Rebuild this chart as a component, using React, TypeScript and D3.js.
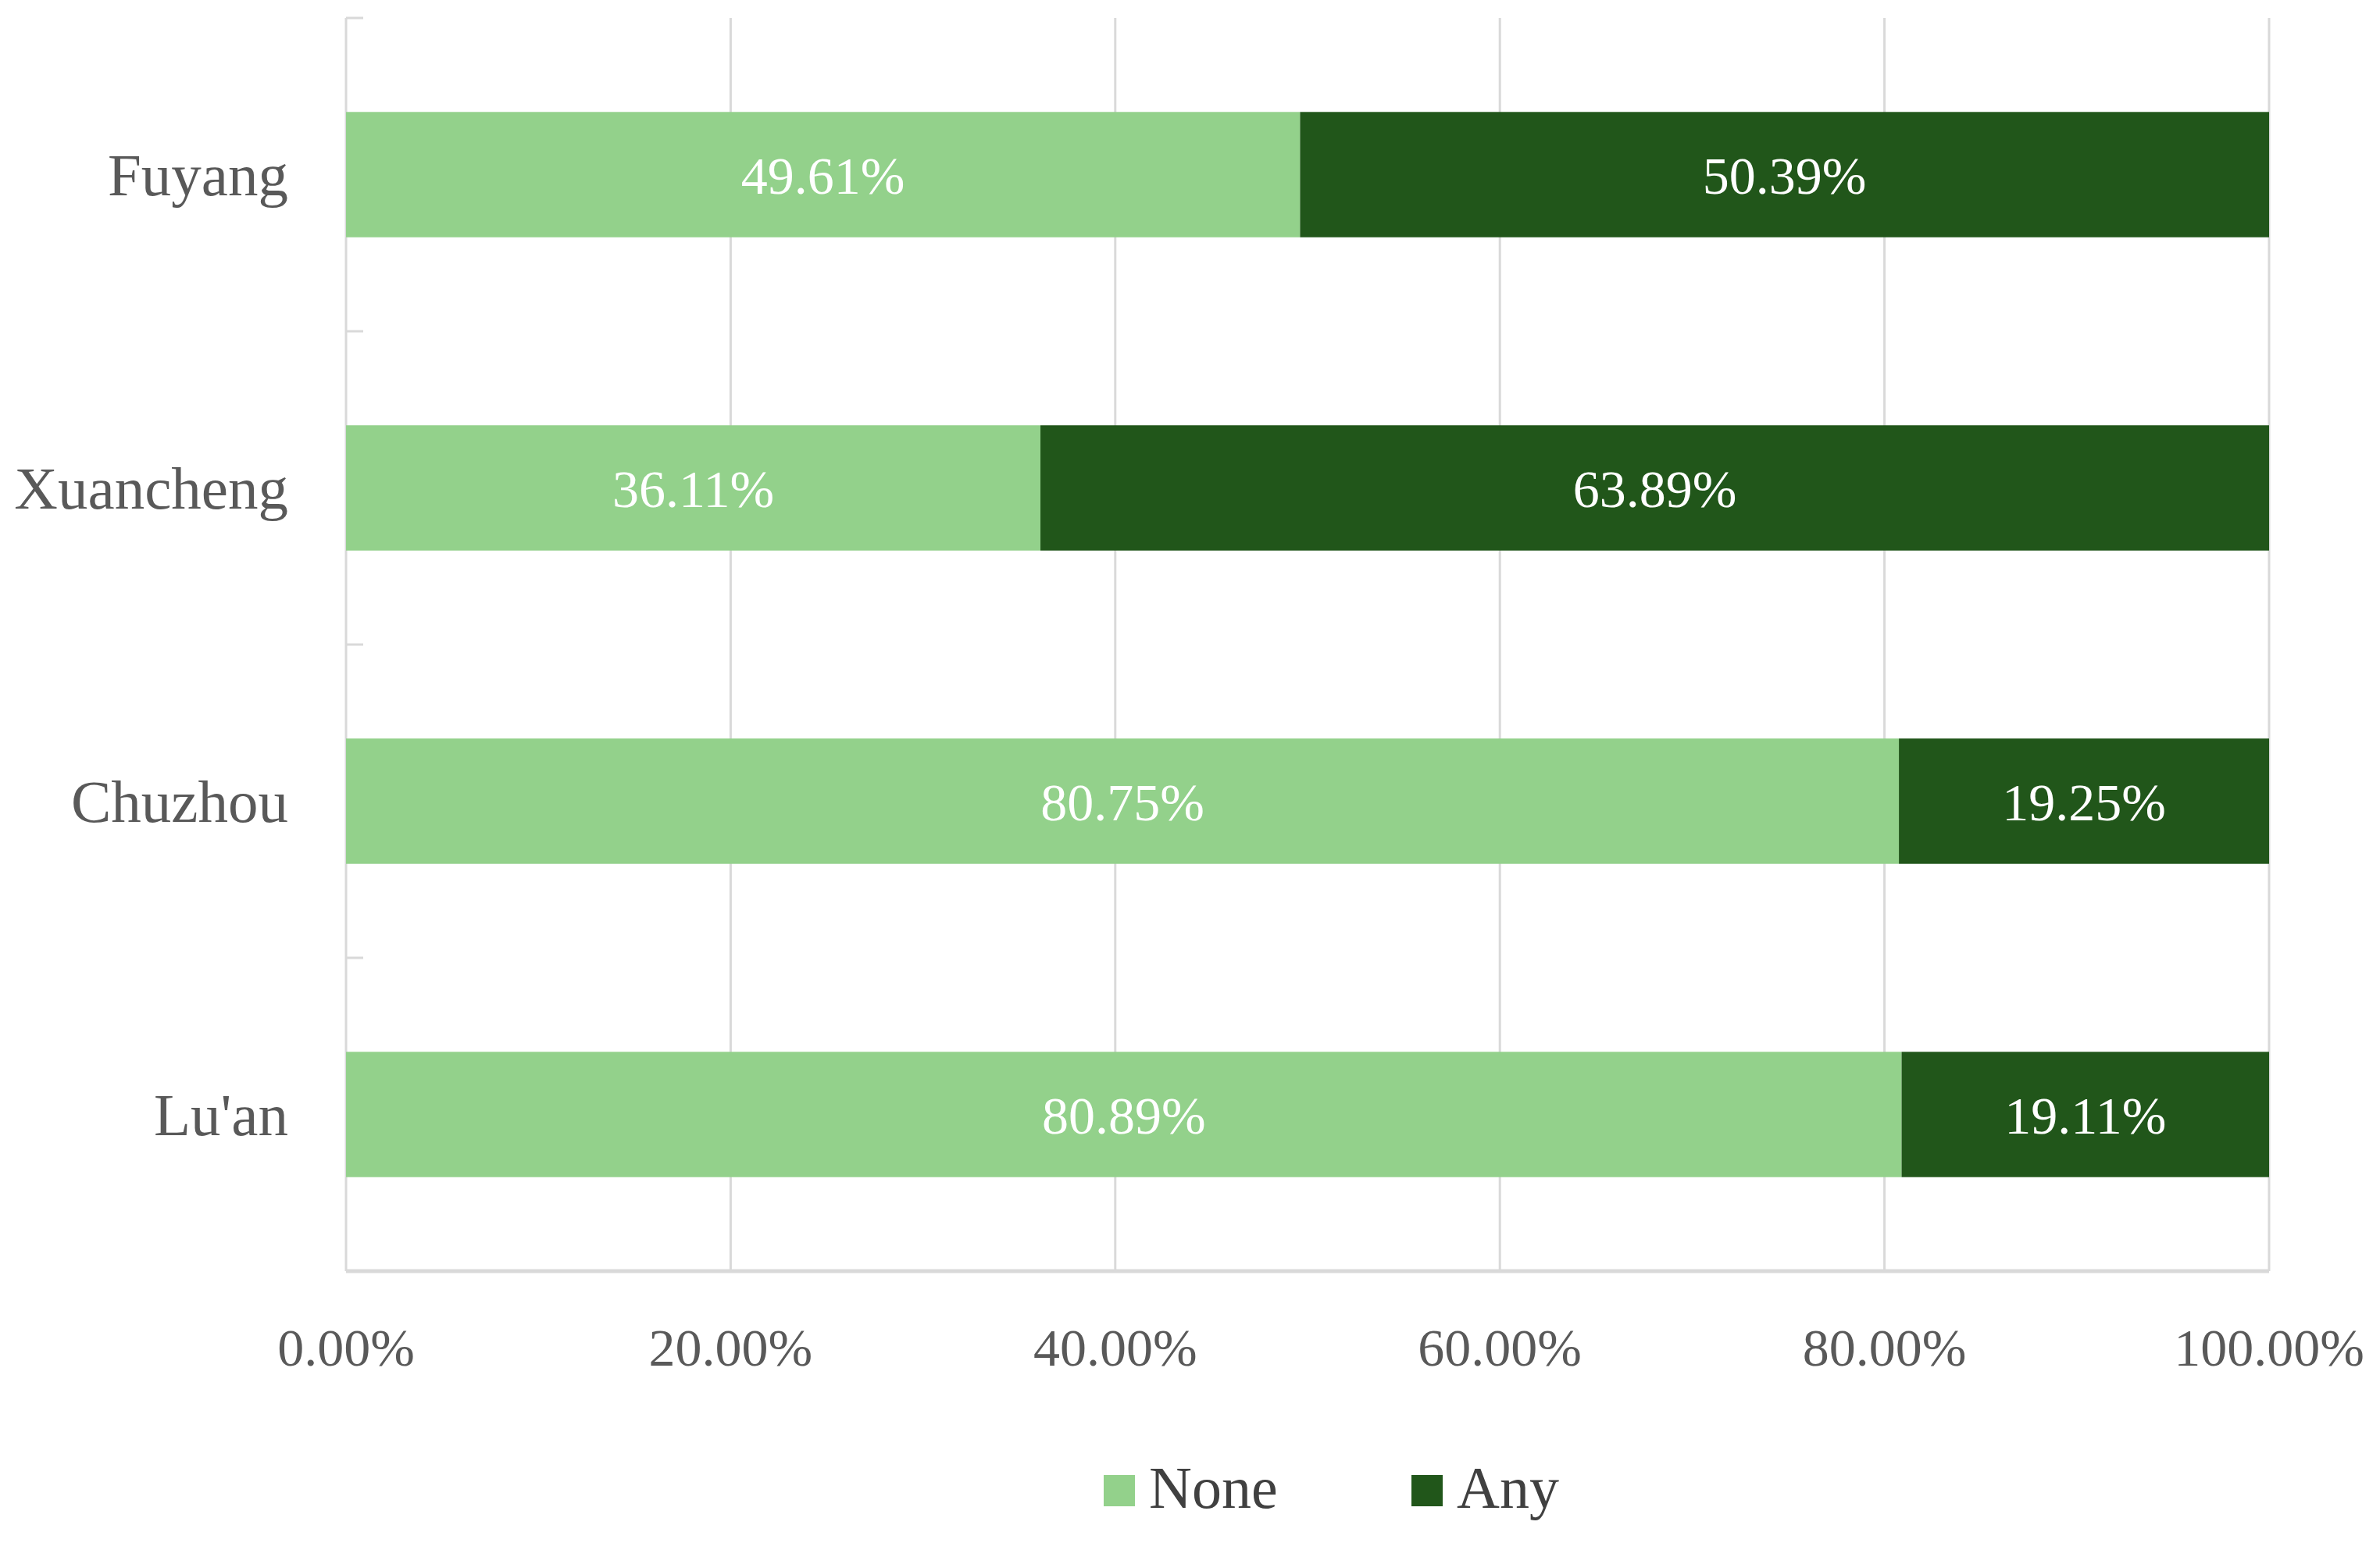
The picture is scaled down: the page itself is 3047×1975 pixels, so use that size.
import React, { useEffect } from 'react';
import * as d3 from 'd3';

// categories top to bottom
const cities = ['Fuyang', 'Xuancheng', 'Chuzhou', "Lu'an"];
const noneShare = [49.61, 36.11, 80.75, 80.89];
const anyShare = [50.39, 63.89, 19.25, 19.11];
const seriesNames = ['None', 'Any'];
const xTicks = [0, 20, 40, 60, 80, 100];

const W = 3047;
const H = 1975;
const margin = { top: 23, right: 142, bottom: 348, left: 443 };
const colors = ['#93d18b', '#21561a'];
const font = '"Liberation Serif", "Times New Roman", serif';

const App: React.FC = () => {
  useEffect(() => {
    document.body.style.margin = '0';
  }, []);

  const x = d3.scaleLinear().domain([0, 100]).range([margin.left, W - margin.right]);
  const y = d3.scaleBand<string>()
    .domain(cities)
    .range([margin.top, H - margin.bottom])
    .paddingInner(0.6)
    .paddingOuter(0.3);

  const rows = cities.map((c, i) => ({ city: c, vals: [noneShare[i], anyShare[i]] }));
  const stack = d3.stack<any>().keys(['0', '1']).value((d, k) => d.vals[+k]);
  const layers = stack(rows);

  const plotTop = margin.top;
  const plotBottom = H - margin.bottom;
  // category boundary ticks
  const boundaries = d3.range(cities.length + 1).map(i => plotTop + i * (plotBottom - plotTop) / cities.length);

  return (
    <svg width={W} height={H} style={{ display: 'block', background: '#fff' }}>
      {/* gridlines */}
      {xTicks.map(t => (
        <line key={t} x1={x(t)} x2={x(t)} y1={plotTop} y2={plotBottom} stroke="#d9d9d9" strokeWidth={3} />
      ))}
      {/* category ticks */}
      {boundaries.map((b, i) => (
        <line key={i} x1={x(0)} x2={x(0) + 22} y1={b} y2={b} stroke="#d9d9d9" strokeWidth={3} />
      ))}
      {/* bottom axis */}
      <line x1={x(0)} x2={x(100)} y1={plotBottom} y2={plotBottom} stroke="#d9d9d9" strokeWidth={5} />

      {/* bars */}
      {layers.map((layer, si) => (
        <g key={si}>
          {layer.map((d: any) => {
            const x0 = x(d[0]);
            const x1 = x(d[1]);
            const yy = y(d.data.city)!;
            return (
              <g key={d.data.city}>
                <rect x={x0} y={yy} width={x1 - x0} height={y.bandwidth()} fill={colors[si]} />
                <text
                  x={(x0 + x1) / 2}
                  y={yy + y.bandwidth() / 2}
                  dy="0.36em"
                  textAnchor="middle"
                  fill="#ffffff"
                  fontFamily={font}
                  fontSize={68}
                >
                  {d.data.vals[si].toFixed(2)}%
                </text>
              </g>
            );
          })}
        </g>
      ))}

      {/* category labels */}
      {cities.map(c => (
        <text
          key={c}
          x={x(0) - 74}
          y={y(c)! + y.bandwidth() / 2}
          dy="0.35em"
          textAnchor="end"
          fill="#595959"
          fontFamily={font}
          fontSize={77}
        >
          {c}
        </text>
      ))}

      {/* x tick labels */}
      {xTicks.map(t => (
        <text
          key={t}
          x={x(t)}
          y={1748}
          textAnchor="middle"
          fill="#595959"
          fontFamily={font}
          fontSize={68}
        >
          {t.toFixed(2)}%
        </text>
      ))}

      {/* legend */}
      {seriesNames.map((s, i) => {
        const lx = 1413 + i * 394;
        return (
          <g key={s}>
            <rect x={lx} y={1888} width={40} height={40} fill={colors[i]} />
            <text x={lx + 58} y={1930} fill="#404040" fontFamily={font} fontSize={76}>
              {s}
            </text>
          </g>
        );
      })}
    </svg>
  );
};

export default App;
